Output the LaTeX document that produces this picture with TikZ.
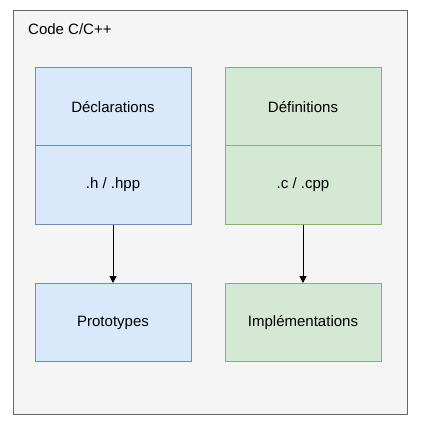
\documentclass[tikz,border=0pt]{standalone}
\usepackage{fontspec}
\setmainfont{Liberation Sans}
\usetikzlibrary{arrows.meta}
\definecolor{outerfill}{HTML}{F5F5F5}
\definecolor{outerdraw}{HTML}{666666}
\definecolor{bluefill}{HTML}{DAE8FC}
\definecolor{bluedraw}{HTML}{6C8EBF}
\definecolor{greenfill}{HTML}{D5E8D4}
\definecolor{greendraw}{HTML}{82B366}
\tikzset{
  txt/.style={font=\fontsize{15}{18}\selectfont},
  bluebox/.style={draw=bluedraw, fill=bluefill, line width=1pt, minimum width=156pt, minimum height=78pt, inner sep=0pt, txt},
  greenbox/.style={draw=greendraw, fill=greenfill, line width=1pt, minimum width=156pt, minimum height=78pt, inner sep=0pt, txt},
  conn/.style={-{Triangle[length=7pt,width=7pt]}, line width=1pt, black}
}
\begin{document}
\begin{tikzpicture}[x=1pt,y=-1pt]
\useasboundingbox[fill=white] (0,0) rectangle (428,430);
\node[draw=outerdraw, fill=outerfill, line width=1pt, minimum width=394pt, minimum height=403pt, inner sep=0pt] (outer) at (210,212.5) {};
\node[anchor=west, inner sep=0pt, txt] (title) at (28,29) {Code C/C++};
\node[bluebox] (decl) at (113,107) {Déclarations};
\node[bluebox] (hpp) at (113,185) {.h / .hpp};
\node[bluebox] (proto) at (113,322.5) {Prototypes};
\node[greenbox] (defi) at (303,107) {Définitions};
\node[greenbox] (cpp) at (303,185) {.c / .cpp};
\node[greenbox] (impl) at (303,322.5) {Implémentations};
\draw[conn] (hpp) -- (proto);
\draw[conn] (cpp) -- (impl);
\end{tikzpicture}
\end{document}
